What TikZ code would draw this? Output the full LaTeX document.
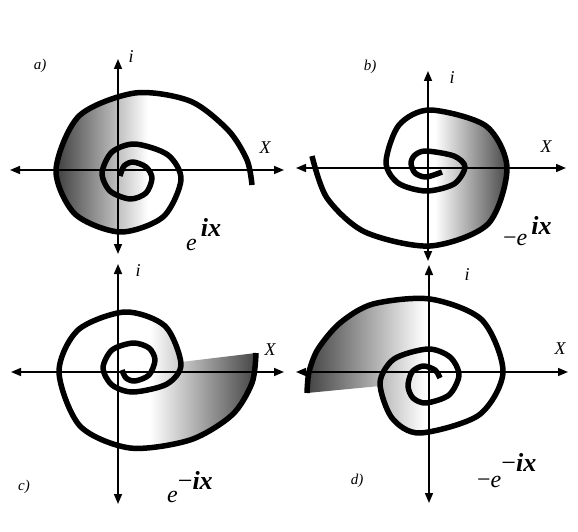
\documentclass[tikz,border=0pt]{standalone}
\usepackage{fontspec}
\setmainfont{Liberation Serif}
\usetikzlibrary{arrows.meta}
\begin{document}
\begin{tikzpicture}[x=1pt,y=-1pt,
  axisline/.style={line width=1.5pt,{Triangle[length=10pt,width=8pt]}-{Triangle[length=10pt,width=8pt]}},
  spiral/.style={line width=5.5pt,line join=round},
  plbl/.style={font=\fontsize{15}{15}\selectfont\itshape,inner sep=0pt},
  albl/.style={font=\fontsize{18}{18}\selectfont\itshape,inner sep=0pt},
  formula/.style={font=\fontsize{24}{24}\selectfont,inner sep=0pt,anchor=base west}]
\useasboundingbox (0,0) rectangle (578,532);
\fill[white] (0,0) rectangle (578,532);
\newcommand\supix{{\fontsize{26}{26}\selectfont\textbf{\textit{ix}}}}
\newcommand\supmin{{\fontsize{26}{26}\selectfont\textminus}}

% ---------- panel a ----------
\begin{scope}
\clip plot[smooth] coordinates {(181,180) (163,217) (120,232) (75,214) (56,170) (79,116) (135,93) (190,101) (228,130) (247,160) (252,185)} -- cycle;
\shade[left color=black!75,right color=white] (56,80) rectangle (148,250);
\end{scope}
\coordinate (aL) at (10,170); \coordinate (aR) at (284,170);
\coordinate (aT) at (118,59); \coordinate (aB) at (118,254);
\draw[axisline] (aL) -- (aR);
\draw[axisline] (aB) -- (aT);
\draw[spiral] plot[smooth] coordinates {(120,176) (124,166) (133,162) (146,167) (152,178) (146,193) (130,199) (110,191) (102,173) (112,152) (135,144) (168,155) (181,180) (163,217) (120,232) (75,214) (56,170) (79,116) (135,93) (190,101) (228,130) (247,160) (252,185)};
\node[plbl] (pa) at (40,66) {a)};
\node[albl] (ia) at (131,57) {i};
\node[albl] (xa) at (265,148) {X};
\node[formula] (fa) at (186,250) {\textit{e}\hspace{4pt}\raisebox{14pt}{\supix}};

% ---------- panel b ----------
\begin{scope}
\clip plot[smooth] coordinates {(386,162) (399,125) (430,110) (486,126) (507,168) (488,224) (430,246) (357,227) (323,190) (312,156)} -- cycle;
\shade[left color=white,right color=black!75] (435,100) rectangle (511,255);
\end{scope}
\coordinate (bL) at (296,168); \coordinate (bR) at (566,168);
\coordinate (bT) at (428,71); \coordinate (bB) at (428,261);
\draw[axisline] (bL) -- (bR);
\draw[axisline] (bB) -- (bT);
\draw[spiral] plot[smooth] coordinates {(442,172) (426,177) (415,173) (411,163) (415,155) (426,151) (454,156) (465,167) (454,184) (426,191) (398,183) (386,162) (399,125) (430,110) (486,126) (507,168) (488,224) (430,246) (365,232) (327,198) (312,156)};
\node[plbl] (pb) at (370,67) {b)};
\node[albl] (ib) at (452,78) {i};
\node[albl] (xb) at (546,147) {X};
\node[formula] (fb) at (503,245) {\textminus\textit{e}\hspace{4pt}\raisebox{11pt}{\supix}};

% ---------- panel c ----------
\begin{scope}
\clip plot[smooth] coordinates {(181,362) (165,326) (125,312) (78,330) (59,372) (80,426) (130,448) (190,440) (232,415) (252,383) (256,353)} -- cycle;
\shade[left color=white,right color=black!75] (150,300) rectangle (259,455);
\end{scope}
\coordinate (cL) at (11,372); \coordinate (cR) at (284,372);
\coordinate (cT) at (118,264); \coordinate (cB) at (118,504);
\draw[axisline] (cL) -- (cR);
\draw[axisline] (cB) -- (cT);
\draw[spiral] plot[smooth] coordinates {(122,370) (126,378) (135,381) (149,375) (155,360) (149,348) (133,343) (112,350) (103,368) (112,385) (133,392) (167,384) (181,364) (165,326) (125,312) (78,330) (59,372) (80,426) (130,448) (190,440) (232,415) (252,383) (256,353)};
\node[plbl] (pc) at (24,487) {c)};
\node[albl] (ic) at (138,271) {i};
\node[albl] (xc) at (270,350) {X};
\node[formula] (fc) at (167,502) {\textit{e}\raisebox{13pt}{\supmin\supix}};

% ---------- panel d ----------
\begin{scope}
\clip plot[smooth] coordinates {(380,386) (392,418) (420,433) (479,415) (503,372) (482,320) (430,299) (373,304) (340,323) (318,349) (309,372) (307,393)} -- cycle;
\shade[left color=black!75,right color=white] (305,290) rectangle (425,440);
\end{scope}
\coordinate (dL) at (296,372); \coordinate (dR) at (568,372);
\coordinate (dT) at (429,265); \coordinate (dB) at (429,503);
\draw[axisline] (dL) -- (dR);
\draw[axisline] (dB) -- (dT);
\draw[spiral] plot[smooth] coordinates {(440,378) (435,370) (423,366) (412,372) (408,386) (413,398) (426,403) (449,395) (459,375) (450,357) (428,349) (394,359) (380,383) (392,418) (420,433) (479,415) (503,372) (482,320) (430,299) (373,304) (340,323) (318,349) (309,372) (307,393)};
\node[plbl] (pd) at (357,481) {d)};
\node[albl] (id) at (467,275) {i};
\node[albl] (xd) at (560,349) {X};
\node[formula] (fd) at (477,487) {\textminus\textit{e}\raisebox{16pt}{\supmin\supix}};
\end{tikzpicture}
\end{document}
